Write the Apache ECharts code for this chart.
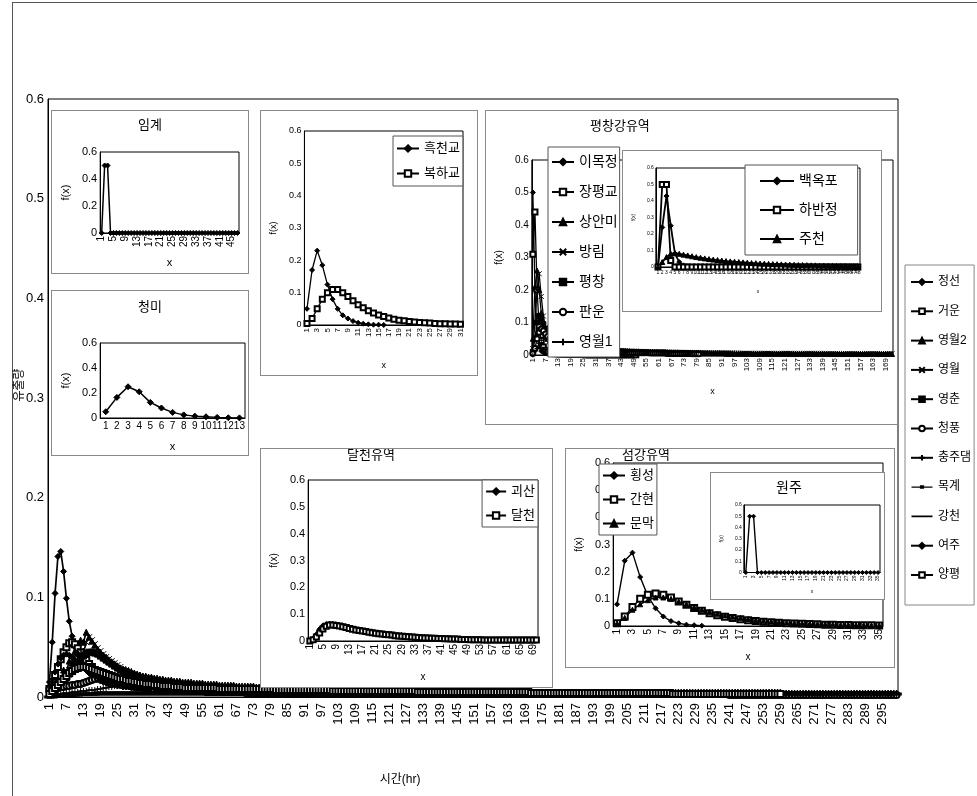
<!DOCTYPE html>
<html><head><meta charset="utf-8">
<script src="https://cdn.jsdelivr.net/npm/echarts@6/dist/echarts.min.js"></script>
<style>
html,body{margin:0;padding:0;background:#fff;width:977px;height:796px;overflow:hidden;}
.box{position:absolute;background:#fff;border:1px solid #8a8a8a;box-sizing:border-box;}
.box>div{position:absolute;left:0;top:0;width:100%;height:100%;}
#frame{position:absolute;left:12px;top:2px;width:990px;height:820px;border-left:1px solid #555;border-top:1px solid #555;}
</style></head><body>
<div id="frame"></div>
<div id="main" style="position:absolute;left:0;top:0;width:977px;height:796px"></div>
<div class="box" style="left:51px;top:110px;width:198px;height:164px"><div id="cA"></div></div>
<div class="box" style="left:51px;top:290px;width:198px;height:166px"><div id="cB"></div></div>
<div class="box" style="left:260px;top:110px;width:218px;height:266px"><div id="cC"></div></div>
<div class="box" style="left:485px;top:110px;width:413px;height:315px"><div id="cD"></div></div>
<div class="box" style="left:622px;top:150px;width:260px;height:162px"><div id="cD2"></div></div>
<div class="box" style="left:260px;top:448px;width:293px;height:240px"><div id="cE"></div></div>
<div class="box" style="left:565px;top:448px;width:330px;height:220px"><div id="cF"></div></div>
<div class="box" style="left:710px;top:472px;width:175px;height:128px"><div id="cF2"></div></div>
<script>
// ---------- DATA (values in thousandths of f(x)) ----------
const mainNames = ['정선','거운','영월2','영월','영춘','청풍','충주댐','목계','강천','여주','양평'];
const jeongseon = [15,55,104,141,146,126,99,76,61,50,
42,36,31,27,24,21,19,17,16,15,
14,13,12,12,11,11,10,10,10,9,
9,9,9,8,8,8,8,8,7,7,
7,7,7,7,6,6,6,6,6,6,
6,6,5,5,5,5,5,5,5,5,
5,5,5,4,4,4,4,4,4,4,
4,4,4,4,4,4,4,3,3,3,
3,3,3,3,3,3,3,3,3,3,
3,3,3,3,3,3,3,3,3,3];
const geoun = [8,15,22,30,38,45,50,54,55,53,
49,45,41,37,33,30,27,25,23,21,
19,18,17,16,15,14,13,12,12,11,
11,10,10,10,9,9,9,8,8,8,
8,8,7,7,7,7,7,7,6,6,
6,6,6,6,6,6,5,5,5,5,
5,5,5,5,5,5,5,5,5,5,
4,4,4,4,4,4,4,4,4,4,
4,4,4,4,4,4,4,4,4,4,
4,4,4,4,4,4,4,4,4,4,
3,3,3,3,3,3,3,3,3,3,
3,3,3,3,3,3,3,3,3,3,
3,3,3,3,3,3,3,3,3,3];
const yeongwol2 = [5,10,9,18,16,27,25,36,34,46,
44,57,55,65,60,56,52,48,45,42,
40,37,35,33,31,29,28,27,26,25,
24,23,22,21,21,20,20,19,19,18,
18,17,17,17,16,16,16,15,15,15,
15,14,14,14,14,13,13,13,13,13,
12,12,12,12,12,12,11,11,11,11,
11,11,11,10,10,10,10,10,10,10,
10,10,9,9,9,9,9,9,9,9,
9,9,9,8,8,8,8,8,8,8,
8,8,8,8,8,8,8,8,7,7,
7,7,7,7,7,7,7,7,7,7,
7,7,7,7,7,7,7,7,6,6,
6,6,6,6,6,6,6,6,6,6,
6,6,6,6,6,6,6,6,6,6,
6,6,6,6,6,6,6,6,6,6,
6,6,5,5,5,5,5,5,5,5,
5,5,5,5,5,5,5,5,5,5,
5,5,5,5,5,5,5,5,5,5,
5,5,5,5,5,5,5,5,5,5,
5,5,5,5,5,5,5,5,5,5,
5,5,5,5,5,5,5,5,5,5,
5,5,5,5,5,5,5,5,5,5,
5,5,5,5,5,5,5,5,5,5,
5,5,5,5,5,5,5,5,5,5,
5,5,5,5,5,5,5,5,5,4,
4,4,4,4,4,4,4,4,4,4,
4,4,4,4,4,4,4,4,4,4,
4,4,4,4,4,4,4,4,4,4,
4,4,4,4,4,4,4,4,4,4];
const yeongwol = [3,6,5,12,10,19,17,27,25,36,
34,46,44,55,60,57,53,49,46,43,
40,38,36,34,32,30,28,27,26,24,
23,22,21,20,19,19,18,17,17,16,
16,15,15,14,14,14,13,13,13,12,
12,12,12,11,11,11,11,10,10,10,
10,10,10,9,9,9,9,9,9,9,
9,8,8,8,8,8,8,8,8,8,
8,8,7,7,7,7,7,7,7,7,
7,7,7,7,7,7,6,6,6,6,
6,6,6,6,6,6,6,6,6,6,
6,6,6,6,6,6,6,6,6,6,
6,6,6,6,6,6,6,6,6,6,
5,5,5,5,5,5,5,5,5,5,
5,5,5,5,5,5,5,5,5,5,
5,5,5,5,5,5,5,5,5,5,
5,5,5,5,5,5,5,5,5,5,
4,4,4,4,4,4,4,4,4,4,
4,4,4,4,4,4,4,4,4,4,
4,4,4];
const yeongchun = [2,4,6,9,12,15,19,23,27,31,
35,38,41,44,45,45,44,43,41,39,
37,35,33,31,29,27,26,24,23,22,
21,20,19,18,17,16,16,15,15,14,
14,13,13,12,12,12,11,11,11,10,
10,10,10,9,9,9,9,9,8,8,
8,8,8,8,7,7,7,7,7,7,
7,7,6,6,6,6,6,6,6,6,
6,6,6,6,5,5,5,5,5,5,
5,5,5,5,5,5,5,5,5,5,
5,5,5,5,5,5,5,5,5,5,
5,5,5,5,5,5,5,5,5,5,
4,4,4,4,4,4,4,4,4,4,
4,4,4,4,4,4,4,4,4,4,
4,4,4,4,4,4,4,4,4,4,
4,4,4,4,4,4,4,4,4,4,
4,4,4,4,4,4,4,4,4,4,
4,4,4,4,4,4,4,4,4,4,
3,3,3,3,3,3,3,3,3,3,
3,3,3,3,3,3,3,3,3,3,
3,3,3,3,3,3,3,3,3,3,
3,3,3,3,3,3,3,3,3,3,
3,3,3,3,3,3,3,3,3,3,
3,3,3,3,3,3,3,3,3,3,
3,3,3,3,3,3,3,3,3,3,
3,3,3,3,3,3,3,3,3];
const cheongpung = [8,8,9,9,10,10,11,11,12,12,
13,13,14,15,16,17,18,19,20,21,
21,21,20,20,19,19,19,18,18,17,
17,16,16,15,15,15,14,14,13,13,
13,12,12,12,11,11,11,11,10,10,
10,10,9,9,9,9,9,8,8,8,
8,8,8,7,7,7,7,7,7,7,
7,6,6,6,6,6,6,6,6,6,
6,6,5,5,5,5,5,5,5,5,
5,5,5,5,5,5,5,5,5,5,
5,5,5,5,5,5,5,5,5,5,
5,5,5,5,5,5,5,5,5,5,
4,4,4,4,4,4,4,4,4,4,
4,4,4,4,4,4,4,4,4,4,
4,4,4,4,4,4,4,4,4,4,
4,4,4,4,4,4,4,4,4,4,
4,4,4,4,4,4,4,4,4,4,
4,4,4,4,4,4,4,4,4,4,
3,3,3,3,3,3,3,3,3,3,
3,3,3,3,3,3,3,3,3,3,
3,3,3,3,3,3,3,3,3,3,
3,3,3,3,3,3,3,3,3,3,
3,3,3,3,3,3,3,3,3,3,
3,3,3,3,3,3,3,3,3,3,
2,2,2,2,2,2,2,2,2,2,
2,2,2,2,2,2,2,2,2,2,
2,2,2,2,2,2,2,2,2,2,
2,2,2,2,2,2,2,2,2,2,
2,2,2,2,2,2,2,2,2,2,
2,2,2,2,2,2,2,2,2,2];
const chungjudam = [2,2,3,3,3,4,4,4,5,5,
5,6,6,6,7,7,7,8,8,9,
9,10,10,11,11,12,12,12,12,12,
12,12,11,11,11,11,10,10,10,10,
10,9,9,9,9,9,9,8,8,8,
8,8,8,8,8,7,7,7,7,7,
7,7,7,7,7,6,6,6,6,6,
6,6,6,6,6,6,6,6,5,5,
5,5,5,5,5,5,5,5,5,5,
5,5,5,5,5,5,5,5,5,5,
5,5,5,5,5,5,5,5,5,5,
5,5,5,5,5,5,5,5,5,5,
5,5,5,5,5,5,5,5,5,5,
5,5,5,5,5,5,5,5,5,5,
4,4,4,4,4,4,4,4,4,4,
4,4,4,4,4,4,4,4,4,4,
4,4,4,4,4,4,4,4,4,4,
4,4,4,4,4,4,4,4,4,4,
4,4,4,4,4,4,4,4,4,4,
4,4,4,4,4,4,4,4,4,4,
4,4,4,4,4,4,4,4,4,4,
4,4,4,4,4,4,4,4,4,4,
3,3,3,3,3,3,3,3,3,3,
3,3,3,3,3,3,3,3,3,3,
3,3,3,3,3,3,3,3,3,3,
3,3,3,3,3,3,3,3,3,3,
3,3,3,3,3,3,3,3,3,3,
3,3,3,3,3,3,3,3,3,3,
3,3,3,3,3,3,3,3,3,3,
3,3,3,3,3,3,3,3,3,3];
const mokgye = [0,0,1,1,1,1,2,2,2,2,
2,3,3,3,3,3,3,4,4,4,
4,4,4,4,4,4,4,4,4,4,
4,4,4,4,4,4,4,4,4,4,
4,4,4,4,4,4,4,4,4,4,
4,4,4,4,4,4,4,4,4,4,
4,4,4,4,4,4,4,4,4,4,
4,4,4,4,4,4,4,4,4,4,
4,4,4,4,4,4,4,4,4,4,
4,4,4,4,4,4,4,4,4,4,
4,4,4,4,4,4,4,4,4,4,
4,4,4,4,4,4,4,4,4,4,
4,4,4,4,4,4,4,4,4,4,
4,4,4,4,4,4,4,4,4,4,
4,4,4,4,4,4,4,4,4,4,
4,4,4,4,4,4,4,4,4,4,
4,4,4,4,4,4,4,4,4,4,
4,4,4,4,4,4,4,4,4,4,
4,4,4,4,4,4,4,4,4,4,
4,4,4,4,4,4,4,4,4,4,
3,3,3,3,3,3,3,3,3,3,
3,3,3,3,3,3,3,3,3,3,
3,3,3,3,3,3,3,3,3,3,
3,3,3,3,3,3,3,3,3,3,
3,3,3,3,3,3,3,3,3,3,
3,3,3,3,3,3,3,3,3,3,
3,3,3,3,3,3,3,3,3,3,
3,3,3,3,3,3,3,3,3,3,
3,3,3,3,3,3,3,3,3,3,
3,3,3,3,3,3,3,3,3,3];
const gangcheon = [0,0,0,1,1,1,1,1,1,1,
2,2,2,2,2,2,2,2,2,2,
2,2,2,2,2,2,2,2,2,2,
2,2,2,2,2,2,2,2,2,2,
2,2,2,2,2,2,2,2,2,2,
2,2,2,2,2,2,2,2,2,2,
2,2,2,2,2,2,2,2,2,2,
2,2,2,2,2,2,2,2,2,2,
2,2,2,2,2,2,2,2,2,2,
2,2,2,2,2,2,2,2,2,2,
2,2,2,2,2,2,2,2,2,2,
2,2,2,2,2,2,2,2,2,2,
2,2,2,2,2,2,2,2,2,2,
2,2,2,2,2,2,2,2,2,2,
2,2,2,2,2,2,2,2,2,2,
2,2,2,2,2,2,2,2,2,2,
2,2,2,2,2,2,2,2,2,2,
2,2,2,2,2,2,2,2,2,2,
2,2,2,2,2,2,2,2,2,2,
2,2,2,2,2,2,2,2,2,2,
2,2,2,2,2,2,2,2,2,2,
2,2,2,2,2,2,2,2,2,2,
2,2,2,2,2,2,2,2,2,2,
2,2,2,2,2,2,2,2,2,2,
2,2,2,2,2,2,2,2,2,2,
2,2,2,2,2,2,2,2,2,2,
2,2,2,2,2,2,2,2,2,2,
2,2,2,2,2,2,2,2,2,2,
2,2,2,2,2,2,2,2,2,2,
2,2,2,2,2,2,2,2,2,2];
const yeoju = [5,15,25,33,39,42,43,42,40,37,
34,31,29,27,25,23,21,20,19,18,
17,16,15,14,14,13,13,12,12,11,
11,10,10,10,9,9,9,9,8,8,
8,8,8,7,7,7,7,7,7,6,
6,6,6,6,6,6,6,5,5,5,
5,5,5,5,5,5,5,5,5,4,
4,4,4,4,4,4,4,4,4,4,
4,4,4,4,4,4,4,4,4,4,
4,4,4,4,4,4,4,4,4,4,
4,4,4,4,4,4,4,4,4,4,
4,4,4,4,4,4,4,4,4,4,
4,4,4,4,4,4,4,4,4,4,
3,3,3,3,3,3,3,3,3,3,
3,3,3,3,3,3,3,3,3,3,
3,3,3,3,3,3,3,3,3,3,
3,3,3,3,3,3,3,3,3,3,
3,3,3,3,3,3,3,3,3,3,
3,3,3,3,3,3,3,3,3,3,
3,3,3];
const yangpyeong = [3,6,9,12,15,18,21,24,26,28,
29,30,30,30,29,28,27,26,25,24,
23,22,21,20,19,18,18,17,16,16,
15,15,14,14,13,13,13,12,12,12,
11,11,11,11,10,10,10,10,9,9,
9,9,9,9,9,9,9,9,9,9,
8,8,8,8,8,8,8,8,8,8,
8,8,8,8,8,8,8,8,8,8,
7,7,7,7,7,7,7,7,7,7,
7,7,7,7,7,7,7,7,7,7,
6,6,6,6,6,6,6,6,6,6,
6,6,6,6,6,6,6,6,6,6,
6,6,6,6,6,6,6,6,6,6,
5,5,5,5,5,5,5,5,5,5,
5,5,5,5,5,5,5,5,5,5,
5,5,5,5,5,5,5,5,5,5,
5,5,5,5,5,5,5,5,5,5,
4,4,4,4,4,4,4,4,4,4,
4,4,4,4,4,4,4,4,4,4,
4,4,4,4,4,4,4,4,4,4,
4,4,4,4,4,4,4,4,4,4,
4,4,4,4,4,4,4,4,4,4,
3,3,3,3,3,3,3,3,3,3,
3,3,3,3,3,3,3,3,3,3,
3,3,3,3,3,3,3,3,3,3,
3,3,3,3,3,3,3,3,3];

// inset: 임계
const imgye = [0,500,500,0,0,0,0,0,0,0,
0,0,0,0,0,0,0,0,0,0,
0,0,0,0,0,0,0,0,0,0,
0,0,0,0,0,0,0,0,0,0,
0,0,0,0,0,0,0];
// inset: 청미
const cheongmi = [50,165,250,210,125,80,45,25,15,10,5,2,1];
// inset: 흑천교 / 복하교
const heukcheongyo = [50,170,230,185,125,80,50,30,20,12,7,4,2,1,1,0];
const bokhagyo = [5,20,50,80,100,110,110,100,88,75,
63,53,44,37,31,26,22,18,15,13,
11,9,8,7,6,5,4,4,3,3,2];
// inset: 평창강유역
const imokjeong = [500,200,60,25,12,8,5,4,3,3,
2,2,2,2,1,1,1,1,1,1,
1,1,1,1,1,1,1,1,1,1];
const jangpyeonggyo = [310,440,200,90,45,25,15,10,8,6,
5,4,4,3,3,3,2,2,2,2,
2,2,2,2,2,1,1,1,1,1,
1,1,1,1,1,1,1,1,1,1,
1,1,1,1,1,1,1,1,1,1];
const sanganmi = [50,210,260,200,130,90,65,50,42,38,
35,33,31,29,27,25,24,23,22,21,
20,19,18,17,17,16,16,15,15,14,
14,13,13,12,12,12,11,11,11,10,
10,10,10,9,9,9,9,9,8,8,
8,8,8,8,7,7,7,7,7,7,
7,7,6,6,6,6,6,6,6,6,
6,6,6,5,5,5,5,5,5,5,
5,5,5,5,5,5,5,5,5,5,
5,5,4,4,4,4,4,4,4,4,
4,4,4,4,4,4,4,4,4,4,
4,4,4,4,4,4,4,4,4,4,
4,4,4,3,3,3,3,3,3,3,
3,3,3,3,3,3,3,3,3,3,
3,3,3,3,3,3,3,3,3,3,
3,3,3,3,3,3,3,3,3,3,
3,3,3,3,3,3,3,3,3,3,
3,3];
const banglim = [20,100,200,250,180,120,85,65,55,50,
47,45,43,41,39,37,35,33,31,30,
28,27,26,25,24,23,22,21,20,20,
19,18,18,17,17,16,16,15,15,15,
14,14,14,13,13,13,12,12,12,12,
11,11,11,11,10,10,10,10,10,9,
9,9,9,9,9,8,8,8,8,8,
8,8,8,7,7,7,7,7,7,7,
7,7,7,6,6,6,6,6,6,6,
6,6,6,6,6,6,5,5,5,5,
5,5,5,5,5,5,5,5,5,5,
5,5,5,5,5,5,5,5,5,5,
5,5,5,5,5,5,5,5,5,5,
5,5,5,5,5,5,5,5,5,5,
4,4,4,4,4,4,4,4,4,4,
4,4,4,4,4,4,4,4,4,4,
4,4,4,4,4,4,4,4,4,4,
4,4];
const pyeongchang = [10,50,100,120,110,95,80,68,58,50,
45,41,38,35,32,30,28,26,24,22,
21,20,19,18,17,16,15,14,14,13,
13,12,12,11,11,10,10,10,9,9,
9,9,8,8,8,8,7,7,7,7];
const panun = [5,20,50,70,80,75,65,57,50,45,
41,38,35,33,31,29,27,25,24,23,
22,21,20,19,18,17,16,15,15,14,
14,13,13,12,12,11,11,11,10,10,
10,9,9,9,9,8,8,8,8,8,
7,7,7,7,7,7,6,6,6,6,
6,6,6,6,5,5,5,5,5,5,
5,5,5,5,5,5,4,4,4,4];
const yeongwol1 = [0,10,20,35,45,50,50,48,46,44,
42,40,38,36,34,32,30,29,28,27,
26,25,24,23,22,21,20,19,18,18,
17,17,16,16,15,15,14,14,13,13,
13,12,12,12,11,11,11,10,10,10,
10,10,10,10,10,10,10,10,10,10,
9,9,9,9,9,9,9,9,9,9,
8,8,8,8,8,8,8,8,8,8,
7,7,7,7,7,7,7,7,7,7,
6,6,6,6,6,6,6,6,6,6,
5,5,5,5,5,5,5,5,5,5,
4,4,4,4,4,4,4,4,4,4];
// inner inset of 평창강유역
const baekokpo = [0,240,430,250,80,30,10,5,2,1,
0,0,0,0,0,0,0,0,0,0,
0,0,0,0,0,0,0,0,0,0,
0,0,0,0,0,0,0,0,0,0,
0,0,0,0,0,0,0,0];
const habanjeong = [0,500,500,40,0,0,0,0,0,0,
0,0,0,0,0,0,0,0,0,0,
0,0,0,0,0,0,0,0,0,0,
0,0,0,0,0,0,0,0,0,0,
0,0,0,0,0,0,0,0];
const jucheon = [0,30,60,80,85,80,75,70,65,60,
56,52,48,45,42,39,36,34,32,30,
28,26,24,23,21,20,19,18,17,16,
15,14,13,12,12,11,10,10,9,9,
8,8,7,7,7,6,6,6];
// inset: 달천유역
const goesan = [0,10,25,45,58,63,65,64,62,60,
58,55,52,49,46,43,41,38,36,34,
32,31,29,28,27,25,24,23,22,21,
20,19,18,17,16,15,14,13,12,12,
11,10,10,9,9,8,8,7,7,6,
6,6,5,5,5,4,4,4,4,3,
3,3,3,3,2,2,2,2,2,2];
const dalcheon = [0,5,15,30,45,55,60,60,58,56,
53,50,47,44,41,39,37,35,33,31,
29,27,26,24,23,22,20,19,18,17,
16,15,14,13,12,11,11,10,10,9,
9,8,8,7,7,7,6,6,6,5,
5,5,5,4,4,4,4,4,4,4,
4,4,4,4,4,4,4,4,4,4];
// inset: 섬강유역
const hoengseong = [80,240,270,180,110,65,35,18,10,5,3,1];
const ganhyeon = [10,35,70,100,115,120,115,105,90,78,
66,56,47,40,34,29,25,21,18,16,
14,12,10,9,8,7,6,5,5,4,
4,3,3,3,2];
const munmak = [10,30,60,80,95,105,105,100,90,80,
70,60,52,45,39,34,30,26,22,19,
17,15,13,11,10,9,8,7,6,5,
5,4,4,3,3];
const wonju = [0,500,500,0,0,0,0,0,0,0,
0,0,0,0,0,0,0,0,0,0,
0,0,0,0,0,0,0,0,0,0,
0,0,0,0,0];

// category counts (x = 1..N)
const mainCount = 300, imgyeCount = 47, cheongmiCount = 13, heukCount = 31,
      pcCount = 172, pcInnerCount = 48, dalCount = 70, seomCount = 35, wonjuCount = 35;

// ---------- BUILD ----------
const FF = '"Liberation Sans","Noto Sans CJK KR",Arial,sans-serif';
const cats = n => Array.from({length:n}, (_, i) => String(i + 1));
const K = arr => arr.map(v => v / 1000);
const fmt = v => v === 0 ? '0' : String(+v.toFixed(1));
const SYM = {
  diamond: 'diamond',
  square: 'emptyRect',
  triangle: 'triangle',
  cross: 'path://M0,0L10,10M10,0L0,10',
  fsquare: 'rect',
  circle: 'emptyCircle',
  plus: 'path://M5,0L5,10M0,5L10,5',
  dash: 'rect',
  none: 'none'
};
const ICON_LINE = 'path://M0,0L0.01,0M0,7.6L60,7.6L60,12.4L0,12.4ZM60,20L59.99,20';
const ICON_DASH = 'path://M0,0L0.01,0M0,8L60,8L60,12L0,12ZM24,5L36,5L36,15L24,15ZM60,20L59.99,20';
function ser(name, data, sym, size, lw) {
  return {
    name, type: 'line', data: K(data), symbol: SYM[sym],
    symbolSize: sym === 'dash' ? [7, 2] : (size || 5),
    showAllSymbol: true, animation: false, emphasis: {disabled: true},
    lineStyle: {color: '#000', width: lw || 1.2},
    itemStyle: {color: '#000', borderColor: '#000', borderWidth: 1}
  };
}
function yAx(fs, interval, nameGap, nameFs, margin) {
  return {type: 'value', min: 0, max: 0.6, interval,
    splitLine: {show: false}, axisLine: {show: true, lineStyle: {color: '#000'}}, axisTick: {show: false},
    axisLabel: {fontSize: fs, color: '#000', margin: margin == null ? 3 : margin, formatter: fmt, fontFamily: FF},
    name: 'f(x)', nameLocation: 'middle', nameGap, nameRotate: 90,
    nameTextStyle: {fontSize: nameFs, color: '#000', fontFamily: FF}};
}
function xAx(n, fs, interval, rotate, nameGap, nameFs) {
  return {type: 'category', data: cats(n), boundaryGap: true,
    axisLine: {lineStyle: {color: '#000'}}, axisTick: {show: false},
    axisLabel: {fontSize: fs, color: '#000', interval, rotate, margin: 3, fontFamily: FF},
    name: 'x', nameLocation: 'middle', nameGap,
    nameTextStyle: {fontSize: nameFs, color: '#000', fontFamily: FF}};
}
function legendBox(pos, names, fs, gap, iw, pad) {
  return Object.assign({orient: 'vertical', data: names, selectedMode: false,
    itemWidth: iw || 22, itemHeight: 8, itemGap: gap,
    padding: pad || [5, 3, 5, 3], borderColor: '#555', borderWidth: 1, backgroundColor: '#fff',
    textStyle: {fontSize: fs, color: '#000', fontFamily: FF}}, pos);
}
function title(text, left, top, fs) {
  return {text, left, top, padding: 0, textStyle: {fontSize: fs, fontWeight: 'normal', color: '#000', fontFamily: FF}};
}
const grid = (l, t, r, b) => ({left: l, top: t, right: r, bottom: b, show: true, borderColor: '#000', borderWidth: 1, backgroundColor: '#fff'});

// ---- main chart ----
const mainData = [jeongseon, geoun, yeongwol2, yeongwol, yeongchun, cheongpung, chungjudam, mokgye, gangcheon, yeoju, yangpyeong];
const mainSyms = ['diamond','square','triangle','cross','fsquare','circle','plus','dash','none','diamond','square'];
const mainLegend = mainNames.map((n, i) =>
  mainSyms[i] === 'none' ? {name: n, icon: ICON_LINE, itemStyle: {borderWidth: 0}} :
  mainSyms[i] === 'dash' ? {name: n, icon: ICON_DASH, itemStyle: {borderWidth: 0}} : n);
echarts.init(document.getElementById('main')).setOption({
  animation: false,
  textStyle: {fontFamily: FF},
  grid: grid(48, 99, 79, 99),
  xAxis: {type: 'category', data: cats(mainCount), boundaryGap: true,
    axisLine: {lineStyle: {color: '#000'}}, axisTick: {show: false},
    axisLabel: {fontSize: 13, color: '#000', interval: 5, rotate: 90, margin: 6}},
  yAxis: {type: 'value', min: 0, max: 0.6, interval: 0.1,
    splitLine: {show: false}, axisLine: {show: true, lineStyle: {color: '#000'}}, axisTick: {show: false},
    axisLabel: {fontSize: 13, color: '#000', margin: 4, formatter: fmt}},
  graphic: [
    {type: 'text', x: 400, y: 780, style: {text: '시간(hr)', fontSize: 12, fill: '#000', align: 'center', verticalAlign: 'middle', fontFamily: FF}},
    {type: 'text', x: 20, y: 385, rotation: Math.PI / 2, style: {text: '유출량', fontSize: 12, fill: '#000', align: 'center', verticalAlign: 'middle', fontFamily: FF}}
  ],
  legend: {orient: 'vertical', left: 905, top: 265, data: mainLegend, selectedMode: false,
    itemWidth: 22, itemHeight: 7, itemGap: 17.3, padding: [11, 3, 24, 5],
    borderColor: '#888', borderWidth: 1,
    textStyle: {fontSize: 12, color: '#000'}},
  series: mainNames.map((n, i) => ser(n, mainData[i], mainSyms[i], 6, 1.7))
});

// ---- inset A: 임계 ----
echarts.init(document.getElementById('cA')).setOption({
  animation: false, title: title('임계', 'center', 8, 13),
  grid: grid(31, 41, 9, 40),
  xAxis: xAx(imgyeCount, 10, 3, 90, 24, 11),
  yAxis: yAx(11, 0.2, 17, 11),
  series: [ser('임계', imgye, 'diamond', 5, 1.5)]
});
// ---- inset B: 청미 ----
echarts.init(document.getElementById('cB')).setOption({
  animation: false, title: title('청미', 'center', 10, 13),
  grid: grid(26, 52, 3, 37),
  xAxis: xAx(cheongmiCount, 10, 0, 0, 23, 11),
  yAxis: yAx(11, 0.2, 14, 11),
  series: [ser('청미', cheongmi, 'diamond', 6, 1.5)]
});
// ---- inset C: 흑천교 / 복하교 ----
echarts.init(document.getElementById('cC')).setOption({
  animation: false,
  grid: grid(31, 20, 14, 48),
  xAxis: xAx(heukCount, 8, 1, 90, 36, 9),
  yAxis: yAx(9, 0.1, 20, 9),
  legend: legendBox({left: 132, top: 25}, ['흑천교','복하교'], 13, 12, 22, [6, 3, 6, 3]),
  series: [ser('흑천교', heukcheongyo, 'diamond', 5, 1.3), ser('복하교', bokhagyo, 'square', 5, 1.3)]
});
// ---- inset D: 평창강유역 ----
echarts.init(document.getElementById('cD')).setOption({
  animation: false, title: title('평창강유역', 104, 9, 13),
  grid: grid(33, 49, 4, 69),
  xAxis: xAx(pcCount, 8, 5, 90, 32, 9),
  yAxis: yAx(10, 0.1, 21, 10),
  legend: legendBox({left: 62, top: 36}, ['이목정','장평교','상안미','방림','평창','판운','영월1'], 14, 16, 22, [8, 2, 8, 3]),
  series: [
    ser('이목정', imokjeong, 'diamond', 5, 1.3), ser('장평교', jangpyeonggyo, 'square', 5, 1.3),
    ser('상안미', sanganmi, 'triangle', 5, 1.3), ser('방림', banglim, 'cross', 5, 1.3),
    ser('평창', pyeongchang, 'fsquare', 5, 1.3), ser('판운', panun, 'circle', 5, 1.3),
    ser('영월1', yeongwol1, 'plus', 5, 1.3)]
});
// ---- inner D2 ----
echarts.init(document.getElementById('cD2')).setOption({
  animation: false,
  grid: grid(30, 17, 21, 44),
  xAxis: xAx(pcInnerCount, 5, 0, 0, 22, 5),
  yAxis: yAx(5, 0.1, 12, 5, 2),
  legend: legendBox({left: 122, top: 14}, ['백옥포','하반정','주천'], 14, 15, 34, [9, 20, 9, 14]),
  series: [ser('백옥포', baekokpo, 'diamond', 5, 1.8), ser('하반정', habanjeong, 'square', 5, 1.8), ser('주천', jucheon, 'triangle', 5, 1.8)]
});
// ---- inset E: 달천유역 ----
echarts.init(document.getElementById('cE')).setOption({
  animation: false, title: title('달천유역', 86, 0, 13),
  grid: grid(34, 31, 14, 45),
  xAxis: xAx(dalCount, 10, 3, 90, 31, 10),
  yAxis: yAx(11, 0.1, 23, 10),
  legend: legendBox({right: 14, top: 31}, ['괴산','달천'], 13, 11, 20, [5, 3, 5, 3]),
  series: [ser('괴산', goesan, 'diamond', 5, 1.5), ser('달천', dalcheon, 'square', 5, 1.5)]
});
// ---- inset F: 섬강유역 ----
echarts.init(document.getElementById('cF')).setOption({
  animation: false, title: title('섬강유역', 56, 0, 13),
  grid: grid(32, 14, 11, 35),
  xAxis: xAx(seomCount, 10, 1, 90, 26, 10),
  yAxis: yAx(11, 0.1, 23, 10),
  legend: legendBox({left: 33, top: 15}, ['횡성','간현','문막'], 13, 11, 22, [5, 3, 5, 3]),
  series: [ser('횡성', hoengseong, 'diamond', 5, 1.4), ser('간현', ganhyeon, 'square', 6, 1.4), ser('문막', munmak, 'triangle', 5, 1.4)]
});
// ---- inner F2: 원주 ----
echarts.init(document.getElementById('cF2')).setOption({
  animation: false, title: title('원주', 65, 8, 14),
  grid: grid(24, 32, 4, 16),
  xAxis: xAx(wonjuCount, 5, 1, 90, 9, 5),
  yAxis: yAx(5, 0.1, 12, 5, 2),
  series: [ser('원주', wonju, 'diamond', 4, 1.4)]
});
</script>
</body></html>
